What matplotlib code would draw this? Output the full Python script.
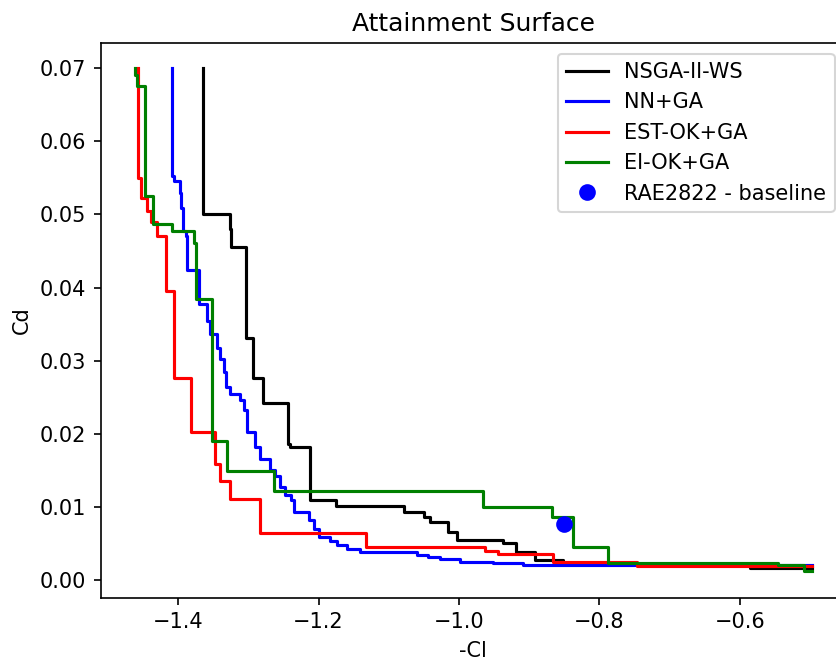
import matplotlib
matplotlib.use("Agg")
import matplotlib.pyplot as plt

# Attainment surfaces (-Cl, Cd) per optimiser, drawn as post-steps
nsga_x = [-1.3644, -1.3644, -1.3266, -1.3246, -1.3033, -1.2939, -1.2797, -1.2441,
          -1.2412, -1.2118, -1.1758, -1.0777, -1.0497, -1.0411, -1.0159, -1.0031,
          -0.9368, -0.9188, -0.8913, -0.8515, -0.5860, -0.4977]
nsga_y = [0.0700, 0.0501, 0.0480, 0.0455, 0.0331, 0.0277, 0.0242, 0.0186,
          0.0182, 0.0109, 0.0101, 0.0093, 0.0086, 0.0080, 0.0066, 0.0055,
          0.0051, 0.0039, 0.0027, 0.0022, 0.0016, 0.0016]

nn_x = [-1.4095, -1.4095, -1.4053, -1.3977, -1.3957, -1.3934, -1.3896, -1.3872,
        -1.3701, -1.3588, -1.3541, -1.3446, -1.3398, -1.3351, -1.3313, -1.3256,
        -1.3114, -1.3067, -1.3019, -1.2900, -1.2829, -1.2687, -1.2616, -1.2545,
        -1.2474, -1.2393, -1.2356, -1.2142, -1.2071, -1.2000, -1.1834, -1.1738,
        -1.1596, -1.1407, -1.0600, -1.0435, -1.0269, -0.9984, -0.9511, -0.9084,
        -0.4977]
nn_y = [0.0700, 0.0552, 0.0546, 0.0530, 0.0509, 0.0477, 0.0470, 0.0424,
        0.0377, 0.0355, 0.0336, 0.0318, 0.0302, 0.0284, 0.0264, 0.0255,
        0.0246, 0.0232, 0.0202, 0.0182, 0.0166, 0.0150, 0.0143, 0.0127,
        0.0116, 0.0109, 0.0093, 0.0082, 0.0070, 0.0059, 0.0054, 0.0048,
        0.0043, 0.0039, 0.0035, 0.0032, 0.0029, 0.0025, 0.0023, 0.0021,
        0.0021]

est_x = [-1.4569, -1.4569, -1.4526, -1.4451, -1.4394, -1.4309, -1.4181, -1.4053,
         -1.3815, -1.3469, -1.3408, -1.3266, -1.2829, -1.1322, -0.9623, -0.9440,
         -0.8657, -0.7470, -0.4977]
est_y = [0.0700, 0.0550, 0.0523, 0.0505, 0.0489, 0.0471, 0.0396, 0.0276,
         0.0203, 0.0159, 0.0136, 0.0111, 0.0065, 0.0046, 0.0040, 0.0036,
         0.0025, 0.0020, 0.0020]

ei_x = [-1.4617, -1.4617, -1.4593, -1.4475, -1.4356, -1.4085, -1.3768, -1.3744,
        -1.3516, -1.3303, -1.2630, -0.9653, -0.8680, -0.8381, -0.7883, -0.5455,
        -0.5090, -0.4977]
ei_y = [0.0700, 0.0691, 0.0676, 0.0525, 0.0487, 0.0478, 0.0461, 0.0384,
        0.0190, 0.0149, 0.0122, 0.0100, 0.0086, 0.0045, 0.0024, 0.0021,
        0.0012, 0.0012]

baseline_x = [-0.850]
baseline_y = [0.0077]

W, H, DPI = 836, 664, 150
fig = plt.figure(figsize=(W / DPI, H / DPI), dpi=DPI)
ax = fig.add_axes([101 / W, (H - 597.7) / H, 744 / W, 554.4 / H])

ax.plot(nsga_x, nsga_y, color="black", drawstyle="steps-post", label="NSGA-II-WS")
ax.plot(nn_x, nn_y, color="blue", drawstyle="steps-post", label="NN+GA")
ax.plot(est_x, est_y, color="red", drawstyle="steps-post", label="EST-OK+GA")
ax.plot(ei_x, ei_y, color="green", drawstyle="steps-post", label="EI-OK+GA")
ax.plot(baseline_x, baseline_y, "o", color="blue", markersize=7,
        linestyle="none", label="RAE2822 - baseline")

ax.set_xlim(-1.51, -0.45)
ax.set_ylim(-0.0024, 0.0734)
ax.set_xticks([-1.4, -1.2, -1.0, -0.8, -0.6])
ax.set_yticks([0.00, 0.01, 0.02, 0.03, 0.04, 0.05, 0.06, 0.07])
ax.set_yticklabels(["0.00", "0.01", "0.02", "0.03", "0.04", "0.05", "0.06", "0.07"])

ax.set_title("Attainment Surface")
ax.set_xlabel("-Cl")
ax.set_ylabel("Cd")

ax.legend(loc="upper right")

fig.savefig("out.png", dpi=DPI)
